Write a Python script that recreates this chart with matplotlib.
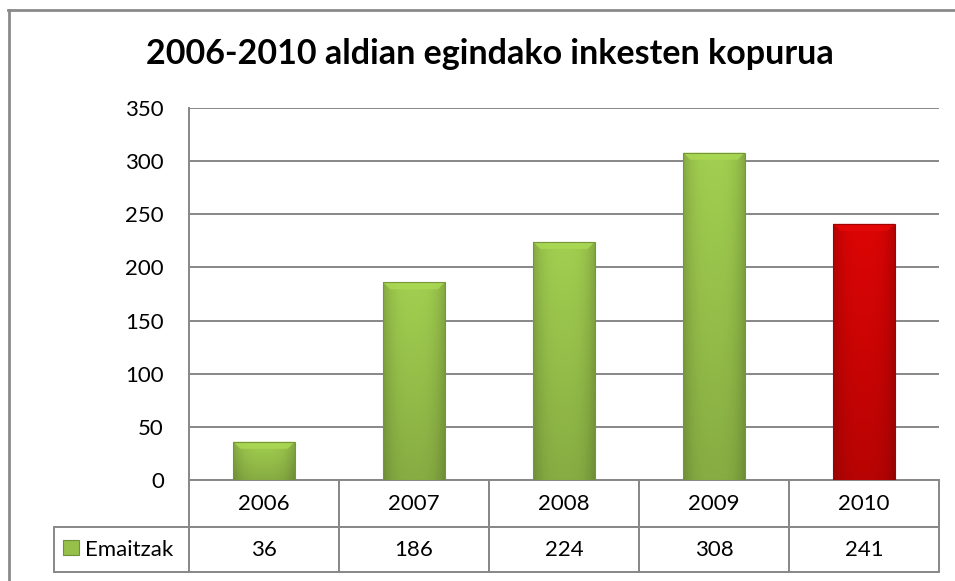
import numpy as np
import matplotlib
matplotlib.use("Agg")
import matplotlib.pyplot as plt
from matplotlib.patches import Rectangle, Polygon
from matplotlib.lines import Line2D

plt.rcParams['font.family'] = ['Lato', 'DejaVu Sans']

years = ['2006', '2007', '2008', '2009', '2010']
values = [36, 186, 224, 308, 241]
series_name = 'Emaitzak'
title = '2006-2010 aldian egindako inkesten kopurua'
yticks = [0, 50, 100, 150, 200, 250, 300, 350]

green = np.array([0x96, 0xc0, 0x4a]) / 255
red = np.array([0xcc, 0x04, 0x04]) / 255
bar_colors = [green, green, green, green, red]
grid_col = '#878787'

W, H = 955, 581
fig = plt.figure(figsize=(W / 100, H / 100), dpi=100)
# plot area in pixels: x 189..939, y 108..480
ax = fig.add_axes([189 / W, (H - 480) / H, 750 / W, 372 / H])

x = np.arange(len(years))
bars = ax.bar(x, values, width=0.41, color='none', edgecolor='none', zorder=3)

# gradient fill + top bevel for each bar (Excel-like look)
u = np.linspace(0, 1, 60)
v = np.linspace(0, 1, 60)
hprof = 1 - 0.18 * np.abs(2 * u - 1) ** 3
for rect, col in zip(bars, bar_colors):
    bx, by, bw, bh = rect.get_x(), rect.get_y(), rect.get_width(), rect.get_height()
    vprof = 0.9 + 0.18 * v[:, None]          # lighter at top, darker at bottom
    img = np.clip(col[None, None, :] * hprof[None, :, None] * vprof[:, :, None], 0, 1)
    im = ax.imshow(img, extent=(bx, bx + bw, by, by + bh), origin='lower',
                   aspect='auto', zorder=3, interpolation='bilinear')
    im.set_clip_path(rect)
    # bevel on top
    dy = 7 / 372 * 350
    dx = 7 / 150
    top = by + bh
    light = np.clip(col * 1.12 + 0.01, 0, 1)
    ax.add_patch(Polygon([(bx, top), (bx + bw, top), (bx + bw - dx, top - dy), (bx + dx, top - dy)],
                         closed=True, facecolor=light, edgecolor='none', alpha=0.8, zorder=4))
    dark = col * 0.78
    ax.add_patch(Rectangle((bx, by), bw, bh, facecolor='none', edgecolor=dark,
                           linewidth=0.8, zorder=4))

ax.set_xlim(-0.5, len(years) - 0.5)
ax.set_ylim(0, 350)
ax.set_yticks(yticks)
ax.yaxis.grid(True, color=grid_col, linewidth=1.4, zorder=0)
ax.set_axisbelow(True)
ax.tick_params(axis='y', length=0, pad=18, labelsize=16)
ax.tick_params(axis='x', length=0, labelbottom=False)
for s in ['top', 'right', 'bottom']:
    ax.spines[s].set_visible(False)
ax.spines['left'].set_color(grid_col)
ax.spines['left'].set_linewidth(1.4)

# data table below the plot (bbox covers the data columns only)
h0, h1 = 47 / 372, 45 / 372
lab_w = 135 / 750
tbl = ax.table(cellText=[[str(v) for v in values]], colLabels=years,
               rowLabels=[series_name], colWidths=[0.2] * len(years),
               cellLoc='center', rowLoc='left',
               bbox=[0, -(h0 + h1), 1, h0 + h1])
tbl.auto_set_font_size(False)
tbl._autoColumns = []   # keep the fixed width of the row-label column
for (r, c), cell in tbl.get_celld().items():
    cell.set_edgecolor(grid_col)
    cell.set_linewidth(1.4)
    cell.set_height(h0 if r == 0 else h1)
    cell.set_width(lab_w if c == -1 else 0.2)
    cell.get_text().set_fontsize(16)
    if c == -1:
        cell.PAD = 0.23

# legend key inside the row label cell
ax.add_patch(Rectangle((-126 / 750, -75 / 372), 16 / 750, 15 / 372,
                       transform=ax.transAxes, clip_on=False,
                       facecolor=green, edgecolor=green * 0.75, linewidth=0.8, zorder=5))

fig.text(490 / W, 1 - 54 / H, title, ha='center', va='center',
         fontsize=24.5, fontweight='bold')

# chart area border (only top and left visible in the crop)
fig.add_artist(Line2D([8.5 / W, 8.5 / W], [0, 1 - 10 / H], transform=fig.transFigure,
                      color='#8a8a8a', linewidth=2))
fig.add_artist(Line2D([8 / W, 1], [1 - 10 / H, 1 - 10 / H], transform=fig.transFigure,
                      color='#8a8a8a', linewidth=2))

fig.savefig('out.png', dpi=100)
